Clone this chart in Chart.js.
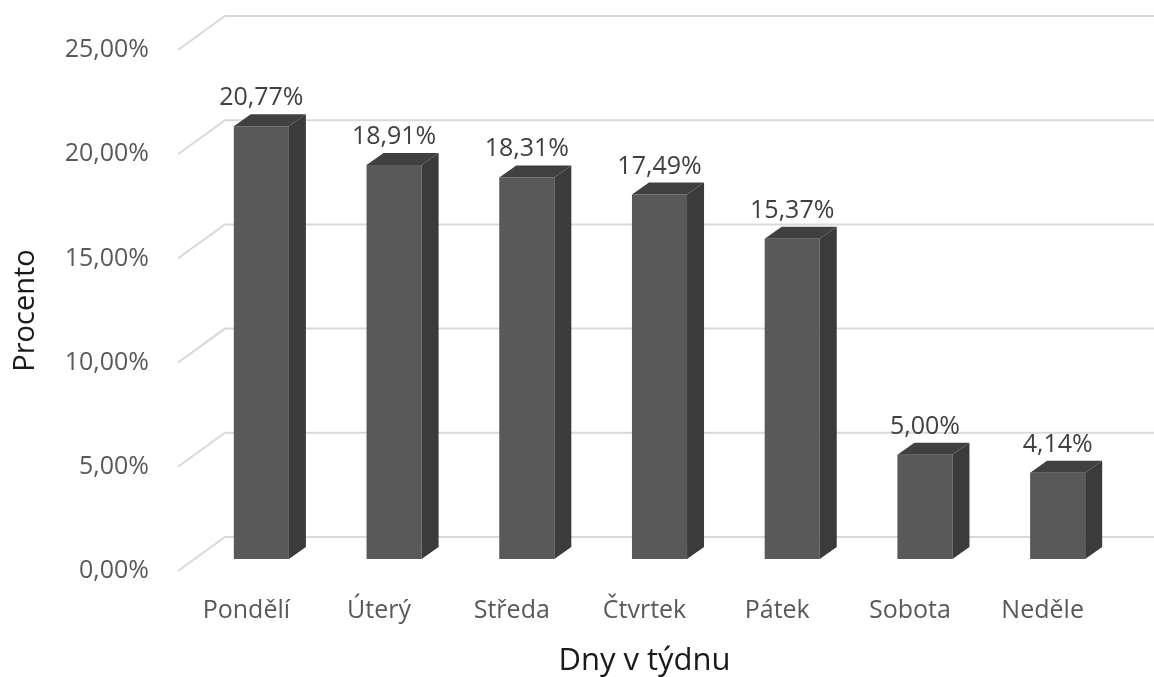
<!DOCTYPE html>
<html>
<head>
<meta charset="utf-8">
<script src="https://cdn.jsdelivr.net/npm/chart.js@4.4.1/dist/chart.umd.min.js"></script>
<style>
html, body { margin: 0; padding: 0; background: #fff; }
</style>
</head>
<body>
<canvas id="dayChart" width="1154" height="677"></canvas>
<script>
//Data

let dayLabels = Array.of("Pondělí", "Úterý", "Středa", "Čtvrtek", "Pátek", "Sobota", "Neděle");
let dayShares = Array.of(20.77, 18.91, 18.31, 17.49, 15.37, 5.00, 4.14);
let yTickValues = Array.of(0, 5, 10, 15, 20, 25);

function czPercent(v) {
    return v.toFixed(2).replace(".", ",") + "%";
}

// fake 3D: wall depth, bar offset into the floor, bar depth
let wallDX = 45, wallDY = 34;
let shiftX = 15, shiftY = 12;
let barDX = 17, barDY = 12;

let fake3d = {
    id: "fake3d",
    beforeDatasetsDraw(chart) {
        let c = chart.ctx;
        let area = chart.chartArea;
        let y = chart.scales.y;
        c.save();
        c.strokeStyle = "#d9d9d9";
        c.lineWidth = 2;
        yTickValues.forEach(v => {
            let py = y.getPixelForValue(v);
            c.beginPath();
            c.moveTo(area.left - 2, py);
            c.lineTo(area.left + wallDX, py - wallDY);
            c.lineTo(chart.width, py - wallDY);
            c.stroke();
        });
        c.restore();
        // front faces drawn by the library, pushed back a bit
        c.save();
        c.translate(shiftX, -shiftY);
    },
    afterDatasetsDraw(chart) {
        let c = chart.ctx;
        c.restore();
        let meta = chart.getDatasetMeta(0);
        meta.data.forEach((bar, i) => {
            let half = bar.width / 2;
            let l = bar.x - half + shiftX;
            let r = bar.x + half + shiftX;
            let t = bar.y - shiftY;
            let b = bar.base - shiftY;
            // side
            c.fillStyle = "#3b3b3b";
            c.beginPath();
            c.moveTo(r, t);
            c.lineTo(r + barDX, t - barDY);
            c.lineTo(r + barDX, b - barDY);
            c.lineTo(r, b);
            c.closePath();
            c.fill();
            // top
            c.fillStyle = "#404040";
            c.beginPath();
            c.moveTo(l, t);
            c.lineTo(l + barDX, t - barDY);
            c.lineTo(r + barDX, t - barDY);
            c.lineTo(r, t);
            c.closePath();
            c.fill();
            // value label
            c.fillStyle = "#404040";
            c.font = "25px 'Open Sans'";
            c.textAlign = "center";
            c.textBaseline = "alphabetic";
            c.fillText(czPercent(dayShares[i]), bar.x + shiftX, t - barDY - 9);
        });
    }
};

let ctx = document.getElementById("dayChart").getContext("2d");

let dayChart = new Chart(ctx, {
    type: "bar",
    data: {
        labels: dayLabels,
        datasets: [{
            label: "Procento",
            data: dayShares,
            backgroundColor: "#595959",
            barPercentage: 0.415,
            categoryPercentage: 1
        }]
    },
    options: {
        responsive: false,
        devicePixelRatio: 1,
        animation: false,
        layout: { padding: { top: 50, right: 45, left: 0, bottom: 0 } },
        plugins: {
            legend: { display: false },
            tooltip: { enabled: false }
        },
        scales: {
            x: {
                grid: { display: false },
                border: { display: false },
                ticks: { color: "#595959", font: { family: "'Open Sans'", size: 25 }, padding: 17 },
                title: {
                    display: true,
                    text: "Dny v týdnu",
                    color: "#1a1a1a",
                    font: { family: "'Open Sans'", size: 31, lineHeight: 1.05 },
                    padding: { top: 0, bottom: 0 }
                },
                afterFit(s) { s.height = 106; }
            },
            y: {
                min: 0,
                max: 25,
                grid: { display: false },
                border: { display: false },
                ticks: {
                    stepSize: 5,
                    color: "#595959",
                    font: { family: "'Open Sans'", size: 25 },
                    padding: 23,
                    callback: v => czPercent(v)
                },
                title: {
                    display: true,
                    text: "Procento",
                    color: "#1a1a1a",
                    font: { family: "'Open Sans'", size: 29 },
                    padding: { top: 8, bottom: 0 }
                },
                afterFit(s) { s.width = 180; }
            }
        }
    },
    plugins: [fake3d]
});
</script>
</body>
</html>
